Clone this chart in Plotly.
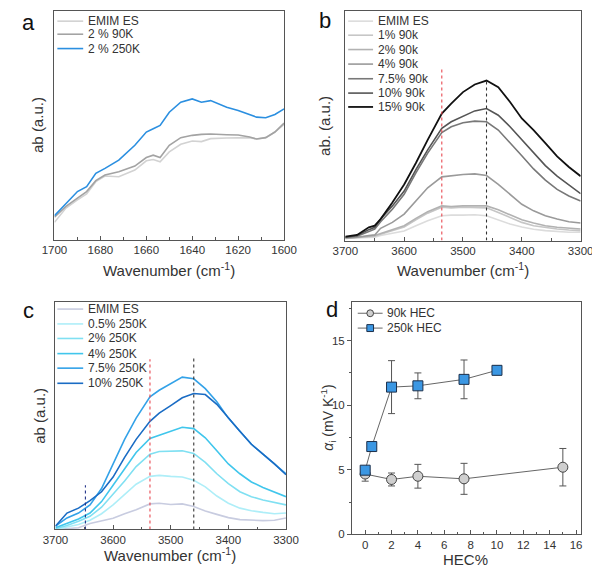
import plotly.graph_objects as go

FONT = "Liberation Sans, Arial, sans-serif"
W, H = 600, 568

# ---------------- Panel a data ----------------
a_x = [1700, 1695, 1690, 1686, 1682, 1678, 1672, 1665, 1660, 1657, 1654, 1650,
       1645, 1640, 1636, 1632, 1625, 1620, 1615, 1612, 1608, 1604, 1600]
a_emim = [0.52, 0.95, 1.20, 1.38, 1.75, 1.92, 1.90, 2.10, 2.38, 2.42, 2.35, 2.65,
          2.88, 2.98, 2.96, 3.05, 3.07, 3.08, 3.08, 3.04, 3.08, 3.25, 3.48]
a_90k = [0.68, 1.00, 1.25, 1.45, 1.78, 1.95, 2.05, 2.22, 2.48, 2.55, 2.48, 2.85,
         3.08, 3.15, 3.18, 3.19, 3.17, 3.16, 3.10, 3.04, 3.08, 3.25, 3.52]
a_250k = [0.72, 1.10, 1.45, 1.60, 2.00, 2.15, 2.40, 2.85, 3.25, 3.35, 3.45, 3.85,
          4.15, 4.25, 4.15, 4.20, 4.00, 3.90, 3.78, 3.70, 3.68, 3.78, 3.95]
a_names = ["EMIM ES", "2 % 90K", "2 % 250K"]
a_colors = ["#d2d2d2", "#a3a3a3", "#2b8fe0"]

# ---------------- Panel b data ----------------
b_x = [3700, 3680, 3660, 3650, 3640, 3620, 3600, 3580, 3560, 3536, 3520, 3500,
       3480, 3460, 3440, 3420, 3400, 3380, 3360, 3340, 3320, 3300]
b_emim = [0.06, 0.07, 0.09, 0.10, 0.15, 0.21, 0.29, 0.45, 0.60, 0.75, 0.77, 0.77,
          0.78, 0.75, 0.63, 0.50, 0.41, 0.34, 0.30, 0.27, 0.25, 0.25]
b_1 = [0.06, 0.08, 0.11, 0.13, 0.19, 0.29, 0.41, 0.63, 0.83, 1.01, 0.99, 1.01,
       1.00, 0.99, 0.85, 0.69, 0.55, 0.45, 0.39, 0.35, 0.32, 0.30]
b_2 = [0.07, 0.09, 0.13, 0.15, 0.21, 0.33, 0.45, 0.67, 0.87, 1.05, 1.03, 1.05,
       1.05, 1.05, 0.93, 0.77, 0.63, 0.53, 0.45, 0.40, 0.37, 0.35]
b_4 = [0.08, 0.10, 0.15, 0.17, 0.37, 0.55, 0.80, 1.20, 1.60, 1.93, 1.97, 2.00,
       2.02, 1.97, 1.70, 1.40, 1.10, 0.90, 0.75, 0.65, 0.57, 0.53]
b_75 = [0.10, 0.13, 0.27, 0.35, 0.57, 0.95, 1.40, 2.05, 2.65, 3.27, 3.45, 3.57,
        3.62, 3.60, 3.35, 2.97, 2.57, 2.17, 1.83, 1.55, 1.35, 1.20]
b_10 = [0.10, 0.15, 0.33, 0.40, 0.65, 1.05, 1.50, 2.15, 2.75, 3.40, 3.60, 3.77,
        3.93, 4.00, 3.80, 3.45, 3.05, 2.65, 2.27, 1.95, 1.68, 1.42]
b_15 = [0.12, 0.17, 0.40, 0.45, 0.65, 1.15, 1.70, 2.35, 3.05, 3.85, 4.15, 4.50,
        4.73, 4.85, 4.65, 4.20, 3.70, 3.35, 2.95, 2.55, 2.23, 1.95]
b_names = ["EMIM ES", "1% 90k", "2% 90k", "4% 90k", "7.5% 90k", "10% 90k", "15% 90k"]
b_colors = ["#dcdcdc", "#c6c6c6", "#b2b2b2", "#9a9a9a", "#787878", "#555555", "#111111"]
b_marks_x = [3536, 3460]
b_marks_top = [5.27, 4.87]

# ---------------- Panel c data ----------------
c_x = [3700, 3680, 3660, 3640, 3620, 3600, 3580, 3560, 3536, 3520, 3500, 3480,
       3460, 3440, 3420, 3400, 3380, 3360, 3340, 3320, 3300]
c_emim = [0.00, 0.02, 0.05, 0.18, 0.26, 0.34, 0.48, 0.60, 0.78, 0.80, 0.76, 0.78,
          0.70, 0.56, 0.46, 0.36, 0.30, 0.28, 0.27, 0.28, 0.35]
c_05 = [0.00, 0.07, 0.15, 0.28, 0.48, 0.75, 1.08, 1.38, 1.62, 1.65, 1.62, 1.60,
        1.50, 1.30, 1.02, 0.80, 0.65, 0.57, 0.52, 0.48, 0.50]
c_2 = [0.02, 0.12, 0.25, 0.40, 0.68, 1.08, 1.48, 1.92, 2.30, 2.38, 2.40, 2.40,
       2.32, 2.05, 1.70, 1.40, 1.15, 1.00, 0.90, 0.82, 0.75]
c_4 = [0.05, 0.18, 0.32, 0.50, 0.85, 1.35, 1.85, 2.35, 2.78, 2.88, 3.00, 3.12,
       3.08, 2.80, 2.40, 2.00, 1.70, 1.45, 1.28, 1.15, 1.00]
c_75 = [0.10, 0.35, 0.50, 0.75, 1.25, 2.00, 2.75, 3.40, 4.05, 4.25, 4.45, 4.65,
        4.60, 4.30, 3.90, 3.40, 3.00, 2.60, 2.30, 2.00, 1.70]
c_10 = [0.10, 0.50, 0.65, 0.88, 1.15, 1.60, 2.20, 2.75, 3.30, 3.55, 3.78, 4.02,
        4.15, 4.12, 3.82, 3.40, 3.00, 2.60, 2.30, 2.00, 1.67]
c_names = ["EMIM ES", "0.5% 250K", "2% 250K", "4% 250K", "7.5% 250K", "10% 250K"]
c_colors = ["#c8cce0", "#aeeef8", "#80e0f2", "#40c6ec", "#33a2e8", "#1a6cc4"]
c_marks_x = [3536, 3460, 3648]
c_marks_top = [5.20, 5.22, 1.35]

# ---------------- Panel d data ----------------
d_90k_x = [0, 2, 4, 7.5, 15]
d_90k_y = [4.67, 4.25, 4.50, 4.30, 5.20]
d_90k_err = [0.55, 0.50, 0.92, 1.20, 1.45]
d_250k_x = [0, 0.5, 2, 4, 7.5, 10]
d_250k_y = [4.97, 6.80, 11.40, 11.50, 12.00, 12.70]
d_250k_err = [0.25, 0.0, 2.05, 1.00, 1.50, 0.35]
d_names = ["90k HEC", "250k HEC"]


def fx(p):
    return p / W


def fy(p):
    return 1 - p / H


fig = go.Figure()

for ys, nm, col in zip([a_emim, a_90k, a_250k], a_names, a_colors):
    fig.add_trace(go.Scatter(x=a_x, y=ys, name=nm, mode="lines",
                             line=dict(color=col, width=1.6), xaxis="x", yaxis="y"))

for ys, nm, col in zip([b_emim, b_1, b_2, b_4, b_75, b_10, b_15], b_names, b_colors):
    fig.add_trace(go.Scatter(x=b_x, y=ys, name=nm, mode="lines",
                             line=dict(color=col, width=1.8 if col == "#111111" else 1.6),
                             xaxis="x2", yaxis="y2"))
for xv, top, col in zip(b_marks_x, b_marks_top, ["#e8474f", "#333333"]):
    fig.add_trace(go.Scatter(x=[xv, xv], y=[0, top], mode="lines",
                             line=dict(color=col, width=1.1, dash="dot"),
                             xaxis="x2", yaxis="y2"))

for ys, nm, col in zip([c_emim, c_05, c_2, c_4, c_75, c_10], c_names, c_colors):
    fig.add_trace(go.Scatter(x=c_x, y=ys, name=nm, mode="lines",
                             line=dict(color=col, width=1.6), xaxis="x3", yaxis="y3"))
for xv, top, col in zip(c_marks_x, c_marks_top, ["#e8474f", "#333333", "#223388"]):
    fig.add_trace(go.Scatter(x=[xv, xv], y=[0, top], mode="lines",
                             line=dict(color=col, width=1.1, dash="dot"),
                             xaxis="x3", yaxis="y3"))

fig.add_trace(go.Scatter(x=d_90k_x, y=d_90k_y, name=d_names[0], mode="lines+markers",
                         line=dict(color="#666666", width=1),
                         marker=dict(symbol="circle", size=10, color="#cfcfcf",
                                     line=dict(color="#444444", width=1)),
                         error_y=dict(type="data", array=d_90k_err, color="#555555",
                                      thickness=1, width=3.5),
                         xaxis="x4", yaxis="y4"))
fig.add_trace(go.Scatter(x=d_250k_x, y=d_250k_y, name=d_names[1], mode="lines+markers",
                         line=dict(color="#666666", width=1),
                         marker=dict(symbol="square", size=10, color="#3b97e3",
                                     line=dict(color="#1c2f4a", width=1)),
                         error_y=dict(type="data", array=d_250k_err, color="#555555",
                                      thickness=1, width=3.5),
                         xaxis="x4", yaxis="y4"))

axis_common = dict(showline=True, mirror=True, linecolor="#555555", linewidth=1,
                   showgrid=False, zeroline=False, tickcolor="#555555",
                   tickfont=dict(family=FONT, size=11.5, color="#333333"))

layout = dict(
    width=W, height=H, margin=dict(l=0, r=0, t=0, b=0),
    paper_bgcolor="white", plot_bgcolor="white", showlegend=False,
    font=dict(family=FONT, color="#333333"),
    xaxis=dict(domain=[fx(35), fx(275)], anchor="y", range=[1700, 1600],
               tickvals=[1700, 1680, 1660, 1640, 1620, 1600], ticks="inside", ticklen=4,
               minor=dict(dtick=10, ticks="inside", ticklen=2.5, tickcolor="#555555"),
               **axis_common),
    yaxis=dict(domain=[fy(234), fy(3)], anchor="x", range=[0, 6.91],
               showticklabels=False, ticks="", **axis_common),
    xaxis2=dict(domain=[fx(339), fx(585)], anchor="y2", range=[3700, 3300],
                tickvals=[3700, 3600, 3500, 3400, 3300], ticks="inside", ticklen=4,
                minor=dict(dtick=50, ticks="inside", ticklen=2.5, tickcolor="#555555"),
                **axis_common),
    yaxis2=dict(domain=[fy(235), fy(3)], anchor="x2", range=[0, 6.96],
                showticklabels=False, ticks="", **axis_common),
    xaxis3=dict(domain=[fx(36), fx(277)], anchor="y3", range=[3700, 3300],
                tickvals=[3700, 3600, 3500, 3400, 3300], ticks="inside", ticklen=4,
                minor=dict(dtick=50, ticks="inside", ticklen=2.5, tickcolor="#555555"),
                **axis_common),
    yaxis3=dict(domain=[fy(527), fy(297)], anchor="x3", range=[0, 6.95],
                showticklabels=False, ticks="", **axis_common),
    xaxis4=dict(domain=[fx(346), fx(585)], anchor="y4", range=[-1, 16.35],
                tickvals=[0, 2, 4, 6, 8, 10, 12, 14, 16], ticks="inside", ticklen=4,
                minor=dict(dtick=1, ticks="inside", ticklen=2.5, tickcolor="#555555"),
                **axis_common),
    yaxis4=dict(domain=[fy(532), fy(297)], anchor="x4", range=[0, 18],
                tickvals=[0, 5, 10, 15], ticks="outside", ticklen=4,
                minor=dict(dtick=2.5, ticks="outside", ticklen=2.5, tickcolor="#555555"),
                **axis_common),
)
fig.update_layout(**layout)

ann = []
shapes = []


def text(x, y, s, size, anchor="center", angle=0, color="#333333"):
    ann.append(dict(x=fx(x), y=fy(y), xref="paper", yref="paper", text=s,
                    showarrow=False, xanchor=anchor, yanchor="middle",
                    textangle=angle, font=dict(family=FONT, size=size, color=color)))


# panel letters
text(8, 15, "a", 22, color="#111111")
text(318, 13, "b", 22, color="#111111")
text(8, 306, "c", 22, color="#111111")
text(325, 305, "d", 22, color="#111111")

# axis titles
WN = "Wavenumber (cm<sup>-1</sup>)"
text(155, 264, WN, 15)
text(462, 264, WN, 15)
text(156, 552, WN, 15)
text(465, 557, "HEC%", 15)
text(18, 118, "ab (a.u.)", 15, angle=-90)
text(318, 119, "ab. (a.u.)", 15, angle=-90)
text(20, 412, "ab (a.u.)", 15, angle=-90)
text(321, 414, "<i>α</i><sub>i</sub> (mV K<sup>-1</sup>)", 14, angle=-90)


def legend(x0, x1, xt, rows, names, colors, widths=None):
    for i, (r, nm, col) in enumerate(zip(rows, names, colors)):
        w = widths[i] if widths else 1.6
        shapes.append(dict(type="line", xref="paper", yref="paper",
                           x0=fx(x0), x1=fx(x1), y0=fy(r), y1=fy(r),
                           line=dict(color=col, width=w)))
        text(xt, r, nm, 12, anchor="left")


legend(38, 65, 68, [13.3, 26.5, 41], a_names, a_colors)
legend(342, 368, 371, [13.3, 27.5, 42, 56.7, 71.5, 86, 100], b_names, b_colors,
       widths=[1.6] * 6 + [1.8])
legend(38, 65, 68, [304.3, 319.3, 334, 349.3, 364, 379.3], c_names, c_colors)

# panel d legend: line + marker glyph
for r, sym, fill, edge, nm in zip([308.5, 323.5], ["circle", "rect"],
                                  ["#cfcfcf", "#3b97e3"], ["#444444", "#1c2f4a"], d_names):
    shapes.append(dict(type="line", xref="paper", yref="paper", x0=fx(352), x1=fx(378),
                       y0=fy(r), y1=fy(r), line=dict(color="#666666", width=1)))
    shapes.append(dict(type=sym, xref="paper", yref="paper", x0=fx(361.5), x1=fx(368.5),
                       y0=fy(r + 3.5), y1=fy(r - 3.5), fillcolor=fill,
                       line=dict(color=edge, width=1)))
    text(381, r, nm, 12, anchor="left")

fig.update_layout(annotations=ann, shapes=shapes)
fig.write_html("out.html")
